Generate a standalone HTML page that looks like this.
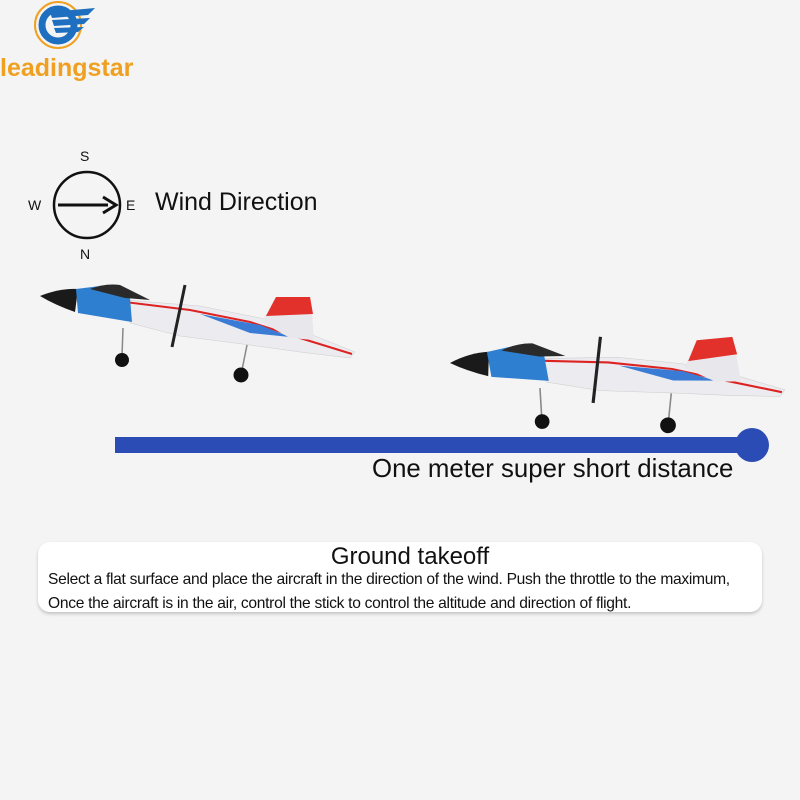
<!DOCTYPE html>
<html><head><style>
body{margin:0;width:800px;height:800px;background:#f4f4f4;overflow:hidden;font-family:"Liberation Sans",sans-serif;position:relative}
.t{position:absolute;white-space:nowrap;color:#111}
</style></head><body>
<svg width="800" height="800" style="position:absolute;left:0;top:0">
<defs>
<g id="plane">
<path d="M125,300 L200,306 L260,318 L300,330 L355,352 L350,358 L300,352 L250,345 L180,336 L130,323 Z" fill="#ececf0" stroke="#ccc" stroke-width="0.5"/>
<path d="M125,302 L190,310 L250,322 L300,338 L352,354" stroke="#d22" stroke-width="2" fill="none"/>
<path d="M200,314 L260,325 L290,337 L250,333 Z" fill="#3a7bd5"/>
<path d="M262,322 L275,298 L311,298 L314,340 L290,338 Z" fill="#e8e8ec"/>
<path d="M266,316 L276,297 L310,297 L313,314 Z" fill="#e2302b"/>
<path d="M40,296 Q60,288 78,289 L75,312 Q55,305 40,296 Z" fill="#1a1a1a"/>
<path d="M76,289 L100,286 L130,298 L132,322 L78,313 Z" fill="#2f7fd0"/>
<path d="M90,289 Q105,283 120,285 L150,300 L125,298 Z" fill="#2a2a2a"/>
<line x1="185" y1="285" x2="172" y2="347" stroke="#222" stroke-width="3"/>
<line x1="123" y1="328" x2="122" y2="356" stroke="#888" stroke-width="1.5"/>
<line x1="247" y1="345" x2="242" y2="370" stroke="#888" stroke-width="1.5"/>
<circle cx="122" cy="360" r="7" fill="#111"/>
<circle cx="241" cy="375" r="7.5" fill="#111"/>
</g>
</defs>
<use href="#plane"/>
<use href="#plane" transform="translate(378.4,57.6) rotate(-5.5) scale(1.05)"/>
<circle cx="87" cy="205" r="33" fill="none" stroke="#111" stroke-width="2.5"/>
<line x1="58" y1="205" x2="108" y2="205" stroke="#111" stroke-width="3"/>
<path d="M103,197 L116,205 L103,213" fill="none" stroke="#111" stroke-width="3"/>
<rect x="115" y="437" width="630" height="16" fill="#2b4cb5"/>
<circle cx="752" cy="445" r="17" fill="#2b4cb5"/>
<circle cx="58" cy="25" r="23" fill="none" stroke="#f0a020" stroke-width="2"/>
<circle cx="58" cy="25" r="16" fill="none" stroke="#1f6fc0" stroke-width="7"/>
<circle cx="58" cy="25" r="10" fill="#f4f4f4"/>
<path d="M50,12 L95,8 L88,15 L52,18 Z M52,20 L90,18 L84,24 L54,26 Z M54,28 L84,27 L78,32 L56,33 Z" fill="#1f6fc0"/>
</svg>
<div class="t" style="left:0;top:54px;font-size:25px;font-weight:bold;color:#f0a020">leadingstar</div>
<div class="t" style="left:80px;top:148px;font-size:14px">S</div>
<div class="t" style="left:80px;top:246px;font-size:14px">N</div>
<div class="t" style="left:28px;top:197px;font-size:14px">W</div>
<div class="t" style="left:126px;top:197px;font-size:14px">E</div>
<div class="t" style="left:155px;top:188px;font-size:25px">Wind Direction</div>
<div class="t" style="left:372px;top:455px;font-size:25.8px">One meter super short distance</div>
<div style="position:absolute;left:38px;top:542px;width:724px;height:70px;background:#fff;border-radius:12px;box-shadow:0 2px 3px rgba(0,0,0,0.2)"></div>
<div class="t" style="left:0;width:820px;text-align:center;top:543px;font-size:24px">Ground takeoff</div>
<div class="t" style="left:48px;top:571px;font-size:15.6px;letter-spacing:-0.3px">Select a flat surface and place the aircraft in the direction of the wind. Push the throttle to the maximum,</div>
<div class="t" style="left:48px;top:595px;font-size:15.6px;letter-spacing:-0.3px">Once the aircraft is in the air, control the stick to control the altitude and direction of flight.</div>
</body></html>
